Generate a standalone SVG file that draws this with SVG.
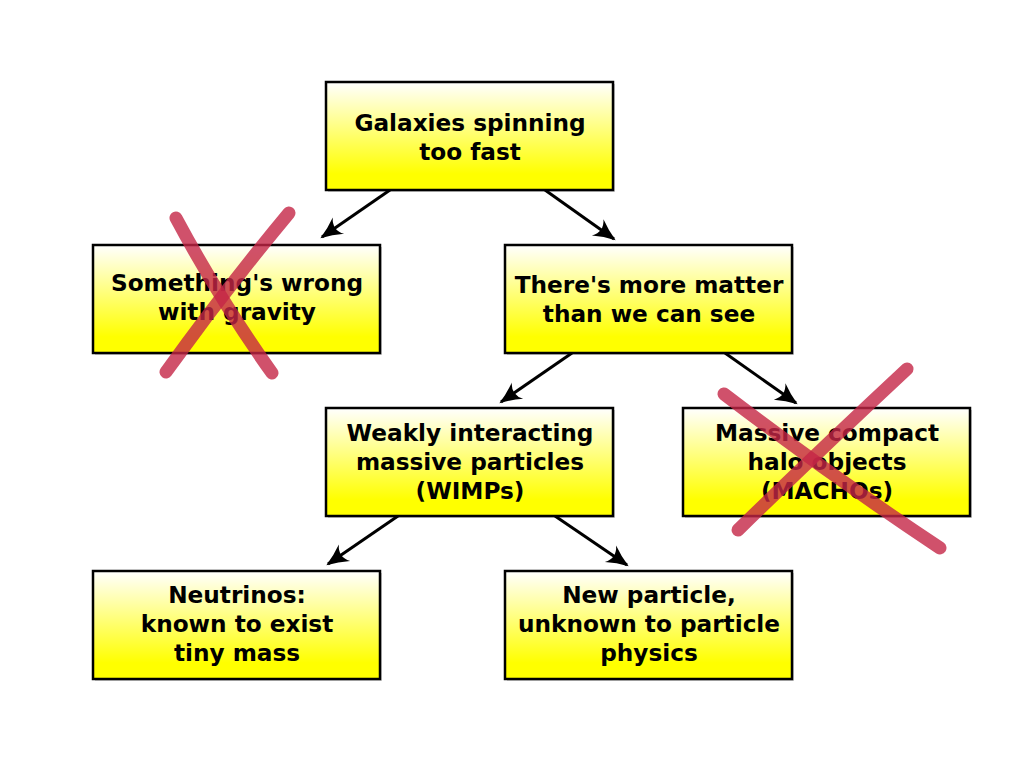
<svg xmlns="http://www.w3.org/2000/svg" width="1024" height="768" viewBox="0 0 1024 768">
<style>
.box{fill:url(#g);stroke:#000;stroke-width:2.5}
.sh{fill:#000;opacity:0.18}
.t{font-family:"DejaVu Sans",sans-serif;font-weight:bold;font-size:23.2px;text-anchor:middle;fill:#000}
.c{stroke:#000;stroke-width:3;fill:none;marker-end:url(#a)}
.x{stroke:#c42646;stroke-opacity:0.8;stroke-width:13;stroke-linecap:round;fill:none}
</style>
<defs>
<linearGradient id="g" x1="0" y1="0" x2="0" y2="1">
<stop offset="0" stop-color="#ffffff"/>
<stop offset="0.85" stop-color="#ffff00"/>
<stop offset="1" stop-color="#ffff00"/>
</linearGradient>
<marker id="a" markerWidth="10" markerHeight="10" viewBox="-8 -5 10 10" refX="0" refY="0" orient="auto" markerUnits="userSpaceOnUse" overflow="visible">
<path d="M2,0 Q-10,-4 -20,-10 Q-12,0 -20,10 Q-10,4 2,0 Z" fill="#000"/>
</marker>
</defs>
<rect width="1024" height="768" fill="#fff"/>
<g id="connectors">
<line class="c" x1="390" y1="190" x2="322" y2="237"/>
<line class="c" x1="545" y1="190" x2="614" y2="239"/>
<line class="c" x1="572" y1="353" x2="501" y2="402"/>
<line class="c" x1="725" y1="353" x2="796" y2="403"/>
<line class="c" x1="398" y1="516" x2="328" y2="564"/>
<line class="c" x1="555" y1="516" x2="627" y2="565"/>
</g>
<g id="n1"><rect class="sh" x="328" y="84" width="287" height="108"/><rect class="box" x="326" y="82" width="287" height="108"/>
<text class="t" x="470" y="131">Galaxies spinning</text><text class="t" x="470" y="160">too fast</text></g>
<g id="n2"><rect class="sh" x="95" y="247" width="287" height="108"/><rect class="box" x="93" y="245" width="287" height="108"/>
<text class="t" x="237" y="291">Something's wrong</text><text class="t" x="237" y="320">with gravity</text></g>
<g id="n3"><rect class="sh" x="507" y="247" width="287" height="108"/><rect class="box" x="505" y="245" width="287" height="108"/>
<text class="t" x="649" y="293">There's more matter</text><text class="t" x="649" y="322">than we can see</text></g>
<g id="n4"><rect class="sh" x="328" y="410" width="287" height="108"/><rect class="box" x="326" y="408" width="287" height="108"/>
<text class="t" x="470" y="441">Weakly interacting</text><text class="t" x="470" y="470">massive particles</text><text class="t" x="470" y="499">(WIMPs)</text></g>
<g id="n5"><rect class="sh" x="685" y="410" width="287" height="108"/><rect class="box" x="683" y="408" width="287" height="108"/>
<text class="t" x="827" y="441">Massive compact</text><text class="t" x="827" y="470">halo objects</text><text class="t" x="827" y="499">(MACHOs)</text></g>
<g id="n6"><rect class="sh" x="95" y="573" width="287" height="108"/><rect class="box" x="93" y="571" width="287" height="108"/>
<text class="t" x="237" y="603">Neutrinos:</text><text class="t" x="237" y="632">known to exist</text><text class="t" x="237" y="661">tiny mass</text></g>
<g id="n7"><rect class="sh" x="507" y="573" width="287" height="108"/><rect class="box" x="505" y="571" width="287" height="108"/>
<text class="t" x="649" y="603">New particle,</text><text class="t" x="649" y="632">unknown to particle</text><text class="t" x="649" y="661">physics</text></g>
<g id="cross1">
<path class="x" d="M176,218 Q220,300 272,373"/>
<path class="x" d="M289,213 Q225,290 166,372"/>
</g>
<g id="cross2">
<path class="x" d="M724,394 Q830,475 940,548"/>
<path class="x" d="M907,369 Q820,450 738,530"/>
</g>
</svg>
